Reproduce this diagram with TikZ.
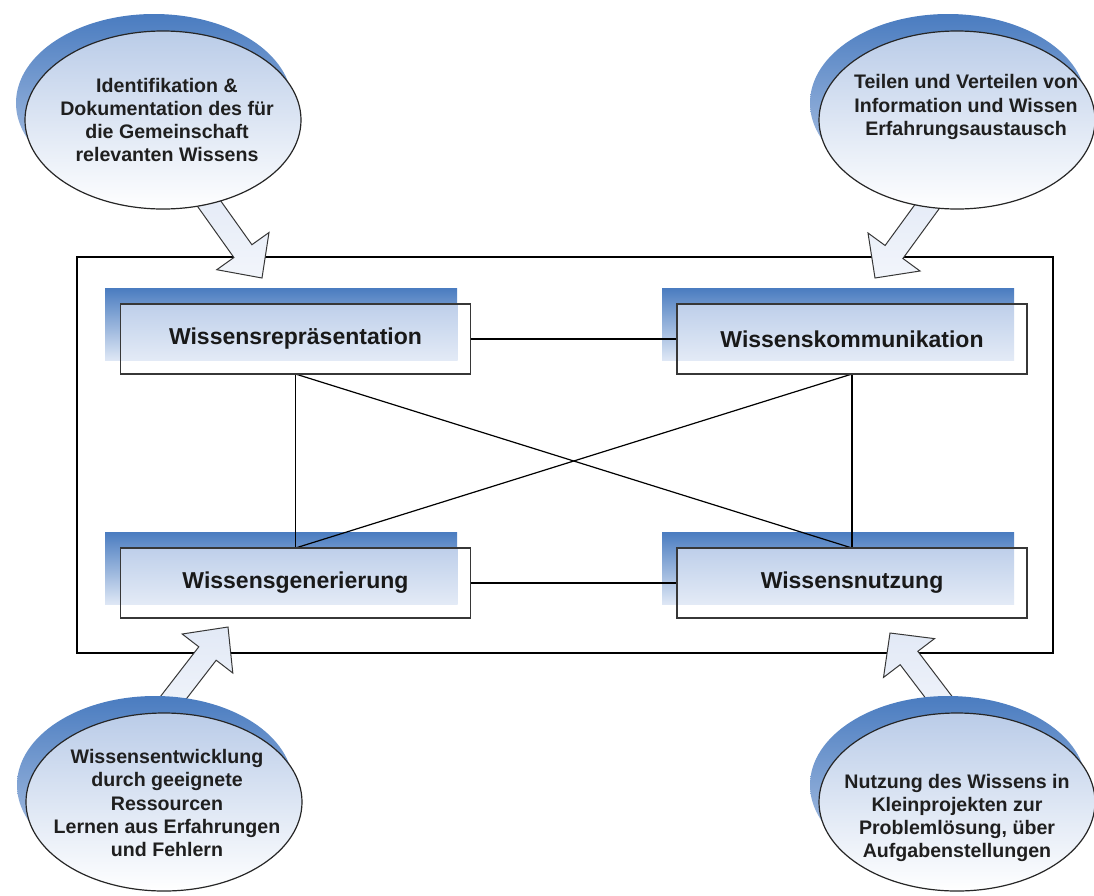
\documentclass[tikz,border=0pt]{standalone}
\usepackage{fontspec}
\setmainfont{Liberation Sans}
\usetikzlibrary{shapes.geometric}

\definecolor{officeblue}{RGB}{74,124,192}
\definecolor{paleblue}{RGB}{222,231,245}
\definecolor{mistblue}{RGB}{186,204,232}
\definecolor{veilblue}{RGB}{190,207,234}
\definecolor{veilpale}{RGB}{236,241,249}
\definecolor{arrowfill}{RGB}{226,233,246}
\definecolor{edgegray}{RGB}{55,55,55}

\tikzset{
  backbox/.style={rectangle, minimum width=352pt, minimum height=72pt,
    inner sep=0pt, top color=officeblue, bottom color=paleblue, draw=none},
  % the labelled box: white, with the tinted part where it lies over the back box
  frontbox/.style={rectangle, minimum width=350pt, minimum height=70pt,
    inner sep=0pt, draw=edgegray, line width=1.3pt, fill=white,
    path picture={\shade[top color=veilblue, bottom color=veilpale]
      (path picture bounding box.north west) rectangle
      ([xshift=-13pt,yshift=14pt]path picture bounding box.south east);},
    text=black!90, font=\fontsize{23}{27}\selectfont\bfseries},
  backoval/.style={ellipse, minimum width=276pt, minimum height=178pt,
    inner sep=0pt, top color=officeblue, bottom color=mistblue, draw=none},
  frontoval/.style={ellipse, minimum width=276pt, minimum height=178pt,
    inner sep=0pt, draw=black!85, line width=1.2pt,
    top color=mistblue, bottom color=white},
  ovaltext/.style={align=center, inner sep=0pt, text=black!88,
    font=\fontsize{19.6}{23.3}\selectfont\bfseries},
  blockarrow/.style={draw=edgegray, line width=1pt, line join=miter,
    top color=arrowfill, bottom color=white!55!arrowfill},
  link/.style={draw=black, line width=1.2pt},
  frame/.style={draw=black, line width=1.3pt},
}

\begin{document}
\begin{tikzpicture}[x=1pt,y=-1pt]
\useasboundingbox[fill=white] (0,0) rectangle (1094,895);

% outer frame
\draw[frame] (77,257) rectangle (1053,653);

% shaded boxes behind the labelled boxes
\node[backbox] (repback)  at (281,324) {};
\node[backbox] (komback)  at (838,324) {};
\node[backbox] (genback)  at (281,568) {};
\node[backbox] (nutzback) at (838,568) {};

% links between the four fields (drawn before the boxes)
\coordinate (repS)  at (295.5,374);
\coordinate (komS)  at (852,374);
\coordinate (genN)  at (295.5,548);
\coordinate (nutzN) at (852,548);
\coordinate (repE)  at (470,339);
\coordinate (komW)  at (677,339);
\coordinate (genE)  at (470,583);
\coordinate (nutzW) at (677,583);
\draw[link] (repE) -- (komW);
\draw[link] (genE) -- (nutzW);
\draw[link] (repS) -- (genN);
\draw[link] (komS) -- (nutzN);
\draw[link] (repS) -- (nutzN);
\draw[link] (komS) -- (genN);

% the four fields
\node[frontbox] (rep)  at (295.5,339) {Wissensrepräsentation};
\node[frontbox] (kom)  at (852,339)   {Wissenskommunikation};
\node[frontbox] (gen)  at (295.5,583) {Wissensgenerierung};
\node[frontbox] (nutz) at (852,583)   {Wissensnutzung};

% block arrows from the ovals to the frame
\path[blockarrow] (187.5,192.3) -- (233.9,257.5) -- (216.8,269.7) -- (262,278)
  -- (269,232.5) -- (251.9,244.7) -- (205.5,179.5) -- cycle;
\path[blockarrow] (932.3,180.7) -- (885.1,245.5) -- (868,233) -- (875,278)
  -- (920,271) -- (902.9,258.5) -- (950.1,193.7) -- cycle;
\path[blockarrow] (150,710) -- (198.8,646.8) -- (182.2,634) -- (228,627)
  -- (232.8,673) -- (216.2,660.2) -- (167.4,723.4) -- cycle;
\path[blockarrow] (948.6,728.4) -- (900.2,664.7) -- (883.5,677.4) -- (890,633)
  -- (934.5,638.6) -- (917.8,651.3) -- (966.2,715.0) -- cycle;

% ovals
\node[backoval]  (tlback) at (154,103) {};
\node[frontoval] (tl)     at (163,120) {};
\node[backoval]  (trback) at (948,103) {};
\node[frontoval] (tr)     at (957,120) {};
\node[backoval]  (blback) at (155,785) {};
\node[frontoval] (bl)     at (164,802) {};
\node[backoval]  (brback) at (948,785) {};
\node[frontoval] (br)     at (957,802) {};

\node[ovaltext] (tltext) at (167,120)
  {Identifikation \&\\Dokumentation des für\\die Gemeinschaft\\relevanten Wissens};
\node[ovaltext] (trtext) at (966,107)
  {Teilen und Verteilen von\\Information und Wissen\\Erfahrungsaustausch};
\node[ovaltext] (bltext) at (167,803)
  {Wissensentwicklung\\durch geeignete\\Ressourcen\\Lernen aus Erfahrungen\\und Fehlern};
\node[ovaltext] (brtext) at (957,818)
  {Nutzung des Wissens in\\Kleinprojekten zur\\Problemlösung, über\\Aufgabenstellungen};
\end{tikzpicture}
\end{document}
